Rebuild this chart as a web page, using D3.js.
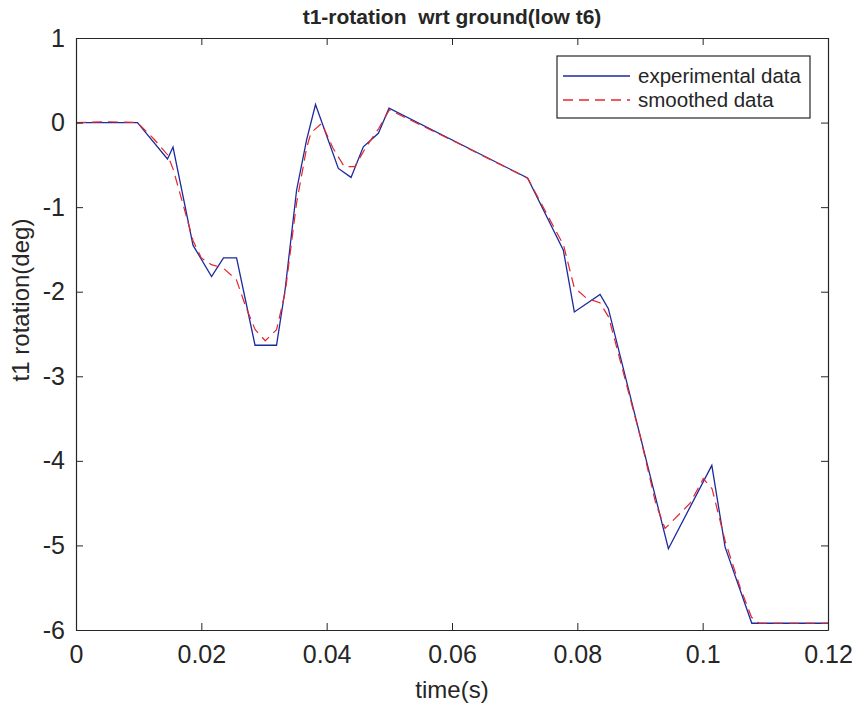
<!DOCTYPE html>
<html>
<head>
<meta charset="utf-8">
<script src="https://cdn.jsdelivr.net/npm/d3@7"></script>
<style>
  html, body { margin: 0; padding: 0; background: #ffffff; }
  svg { display: block; }
  text { font-family: "Liberation Sans", Arial, Helvetica, sans-serif; fill: #262626; }
</style>
</head>
<body>
<svg id="chart" width="857" height="708"></svg>
<script>
// ---- data ----
const expTime = [0, 0.00981, 0.0146, 0.01548, 0.01867, 0.02163, 0.02354, 0.02562, 0.02857, 0.0320,
  0.03336, 0.0352, 0.03679, 0.03822, 0.04186, 0.04389, 0.04585, 0.04825, 0.04995,
  0.07206, 0.07777, 0.07952, 0.08363, 0.08495, 0.09453, 0.10146, 0.10358, 0.10784, 0.12];
const expValues = [0, 0, -0.43, -0.29, -1.45, -1.82, -1.6, -1.6, -2.633, -2.633,
  -1.98, -0.80, -0.207, 0.213, -0.542, -0.648, -0.287, -0.127, 0.17,
  -0.655, -1.509, -2.239, -2.033, -2.2, -5.039, -4.053, -5.02, -5.92, -5.92];

const smoothTime = [0, 0.005, 0.0098, 0.0125, 0.0146, 0.0155, 0.0172, 0.0187, 0.0200, 0.0216,
  0.0235, 0.0256, 0.0272, 0.0286, 0.0302, 0.0320, 0.0334, 0.0352, 0.0368, 0.0375,
  0.0392, 0.0410, 0.0428, 0.0445, 0.0462, 0.0483, 0.0500, 0.0600, 0.0721, 0.0778,
  0.0795, 0.0815, 0.0836, 0.0850, 0.0900, 0.0925, 0.0940, 0.0980, 0.1001, 0.1015,
  0.1036, 0.1060, 0.1078, 0.1090, 0.1200];
const smoothValues = [0, 0.01, 0, -0.2, -0.38, -0.55, -1.0, -1.4, -1.6, -1.68,
  -1.72, -1.86, -2.2, -2.45, -2.58, -2.45, -2.0, -0.95, -0.3, -0.12,
  -0.01, -0.3, -0.52, -0.52, -0.3, -0.07, 0.15, -0.21, -0.66, -1.45,
  -1.95, -2.08, -2.13, -2.3, -3.7, -4.5, -4.8, -4.5, -4.21, -4.33,
  -4.95, -5.5, -5.85, -5.92, -5.92];

const xTicks = [0, 0.02, 0.04, 0.06, 0.08, 0.1, 0.12];
const xTickLabels = ["0", "0.02", "0.04", "0.06", "0.08", "0.1", "0.12"];
const yTicks = [1, 0, -1, -2, -3, -4, -5, -6];
const yTickLabels = ["1", "0", "-1", "-2", "-3", "-4", "-5", "-6"];
const seriesNames = ["experimental data", "smoothed data"];

// ---- layout ----
const L = 76, R = 828, T = 38, B = 630;
const axisColor = "#262626";
const blue = "#1c2a9c";
const red = "#e5262e";

const svg = d3.select("#chart");
const x = d3.scaleLinear().domain([0, 0.12]).range([L, R]);
const y = d3.scaleLinear().domain([-6, 1]).range([B, T]);

// data lines
const line = (tArr, vArr) => d3.line().x((d, i) => x(tArr[i])).y((d, i) => y(vArr[i]))(vArr);

svg.append("path").attr("d", line(expTime, expValues))
  .attr("fill", "none").attr("stroke", blue).attr("stroke-width", 1.3).attr("stroke-linejoin", "miter");
svg.append("path").attr("d", line(smoothTime, smoothValues))
  .attr("fill", "none").attr("stroke", red).attr("stroke-width", 1.2).attr("stroke-dasharray", "10,6");

// axes (ticks inside, box on)
const tickLen = 7;
const fmtX = (d, i) => xTickLabels[i];
const fmtY = (d, i) => yTickLabels[i];

const xb = svg.append("g").attr("transform", `translate(0,${B})`)
  .call(d3.axisBottom(x).tickValues(xTicks).tickFormat(fmtX).tickSizeInner(-tickLen).tickSizeOuter(0).tickPadding(15));
const xt = svg.append("g").attr("transform", `translate(0,${T})`)
  .call(d3.axisTop(x).tickValues(xTicks).tickFormat("").tickSizeInner(-tickLen).tickSizeOuter(0));
const yl = svg.append("g").attr("transform", `translate(${L},0)`)
  .call(d3.axisLeft(y).tickValues(yTicks).tickFormat(fmtY).tickSizeInner(-tickLen).tickSizeOuter(0).tickPadding(11));
const yr = svg.append("g").attr("transform", `translate(${R},0)`)
  .call(d3.axisRight(y).tickValues(yTicks).tickFormat("").tickSizeInner(-tickLen).tickSizeOuter(0));

[xb, xt, yl, yr].forEach(g => {
  g.select(".domain").attr("stroke", axisColor).attr("stroke-width", 1.2);
  g.selectAll(".tick line").attr("stroke", axisColor).attr("stroke-width", 1);
  g.selectAll(".tick text").attr("font-size", 25).attr("fill", axisColor)
    .attr("font-family", "'Liberation Sans', Arial, sans-serif");
});

// title and labels
svg.append("text").attr("x", (L + R) / 2).attr("y", 24).attr("text-anchor", "middle")
  .attr("font-size", 21).attr("font-weight", "bold").text("t1-rotation  wrt ground(low t6)")
  .style("white-space", "pre");
svg.append("text").attr("x", (L + R) / 2).attr("y", 698).attr("text-anchor", "middle")
  .attr("font-size", 24).text("time(s)");
svg.append("text").attr("transform", `translate(29,300) rotate(-90)`).attr("text-anchor", "middle")
  .attr("font-size", 24).text("t1 rotation(deg)");

// legend
const lg = svg.append("g");
lg.append("rect").attr("x", 557).attr("y", 56).attr("width", 253).attr("height", 62)
  .attr("fill", "#fff").attr("stroke", axisColor).attr("stroke-width", 1.2);
const rows = [
  { name: seriesNames[0], color: blue, dash: null, yy: 76 },
  { name: seriesNames[1], color: red, dash: "10,6", yy: 100 }
];
rows.forEach(r => {
  lg.append("line").attr("x1", 563).attr("x2", 630).attr("y1", r.yy).attr("y2", r.yy)
    .attr("stroke", r.color).attr("stroke-width", 1.3).attr("stroke-dasharray", r.dash);
  lg.append("text").attr("x", 638).attr("y", r.yy + 7).attr("font-size", 20.5).text(r.name);
});
</script>
</body>
</html>
